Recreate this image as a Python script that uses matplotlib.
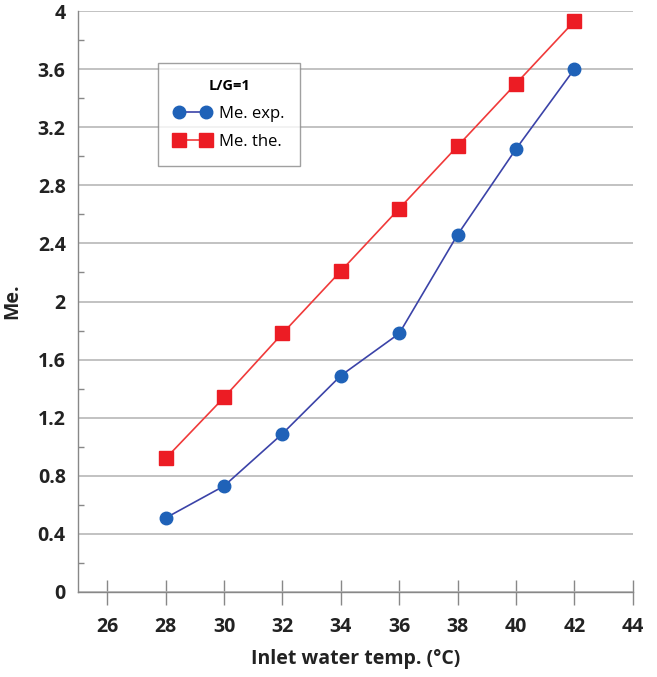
import matplotlib
matplotlib.use("Agg")
import matplotlib.pyplot as plt
from matplotlib.ticker import MultipleLocator

temps = [28, 30, 32, 34, 36, 38, 40, 42]
me_exp = [0.51, 0.73, 1.09, 1.49, 1.78, 2.46, 3.05, 3.60]
me_the = [0.92, 1.34, 1.78, 2.21, 2.64, 3.07, 3.50, 3.93]
x_ticks = [26, 28, 30, 32, 34, 36, 38, 40, 42, 44]
y_ticks = [0, 0.4, 0.8, 1.2, 1.6, 2, 2.4, 2.8, 3.2, 3.6, 4]
y_labels = ["0", "0.4", "0.8", "1.2", "1.6", "2", "2.4", "2.8", "3.2", "3.6", "4"]

plt.rcParams['font.family'] = ['Open Sans', 'DejaVu Sans']

fig = plt.figure(figsize=(6.57, 6.77), dpi=100)
ax = fig.add_axes([0.119, 0.1256, 0.844, 0.858])

ax.plot(temps, me_exp, color='#3b43a8', lw=1.2, marker='o', ms=9,
        markerfacecolor='#1f62b8', markeredgecolor='#1f62b8', label='Me. exp.', zorder=3)
ax.plot(temps, me_the, color='#f03a3a', lw=1.2, marker='s', ms=10,
        markerfacecolor='#ec1c24', markeredgecolor='#ec1c24', label='Me. the.', zorder=3)

ax.set_xlim(25, 44)
ax.set_ylim(0, 4)
ax.set_xticks(x_ticks)
ax.set_yticks(y_ticks)
ax.set_yticklabels(y_labels)
ax.yaxis.set_minor_locator(MultipleLocator(0.2))
ax.grid(axis='y', which='major', color='#b8b8b8', lw=1.2)
ax.set_axisbelow(True)

for s in ['top', 'right']:
    ax.spines[s].set_visible(False)
for s in ['left', 'bottom']:
    ax.spines[s].set_color('#888888')
    ax.spines[s].set_linewidth(1.0)

ax.tick_params(axis='x', which='major', direction='inout', length=18, width=1.0,
               color='#888888', pad=9, labelsize=14)
ax.tick_params(axis='y', which='major', length=0, pad=9, labelsize=14)
ax.tick_params(axis='y', which='minor', direction='in', length=4, width=1.0, color='#888888')
for lab in ax.get_xticklabels() + ax.get_yticklabels():
    lab.set_fontweight('bold')
    lab.set_color('#222222')

ax.set_xlabel('Inlet water temp. (°C)', fontsize=14, fontweight='bold', color='#222222', labelpad=9)
ax.set_ylabel('Me.', fontsize=14, fontweight='bold', color='#222222')
ax.yaxis.set_label_coords(-0.1, 0.5)

leg = ax.legend(loc='upper left', bbox_to_anchor=(0.144, 0.91), borderaxespad=0, numpoints=2,
                title='L/G=1', title_fontproperties={'weight': 'bold', 'size': 10.5},
                fontsize=12, frameon=True, fancybox=False, edgecolor='#888888',
                borderpad=0.95, labelspacing=0.75, handlelength=2.2, handletextpad=0.5)
leg.get_frame().set_linewidth(1.0)

fig.savefig('out.png', dpi=100)
